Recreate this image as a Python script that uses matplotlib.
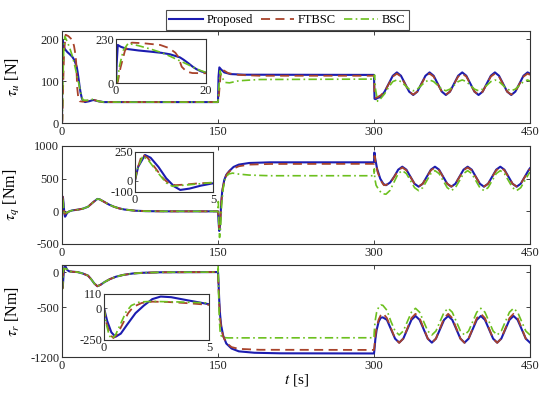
import numpy as np
import matplotlib
matplotlib.use('Agg')
import matplotlib.pyplot as plt

plt.rcParams['font.family'] = ['Liberation Serif', 'DejaVu Serif']
plt.rcParams['mathtext.fontset'] = 'stix'
plt.rcParams['axes.unicode_minus'] = False

# ---------------- data ----------------
# sample times of the periodic part (one sample every eighth of a period)
t_osc_u = np.r_[306.3 + 3.927 * np.arange(37), 450]
t_osc_q = np.r_[311.5 + 3.927 * np.arange(36), 450]
t_osc_r = np.r_[308.5 + 3.927 * np.arange(36), 450]

# tau_u [N]
u_prop_t = [0, 0.15, 0.4, 1, 2.4, 5, 7.6, 10, 12, 14.2, 15, 16.1, 17, 17.9, 19, 20, 22, 26, 30, 35, 40,
            150, 150.5, 151.3, 153, 156, 162, 175, 300, 300.5, 301.5, 303.5]
u_prop_v = [0, 100, 199, 190, 178, 170, 164, 158, 150, 134, 122, 103, 86, 72, 60, 54, 50, 52, 55, 52, 50,
            50, 110, 133, 128, 121, 117, 115.5, 115, 58, 57, 60]
u_prop_osc = [62, 75, 94, 113, 121, 113, 94, 75,
              67, 75, 94, 113, 121, 113, 94, 75,
              67, 75, 94, 113, 121, 113, 94, 75,
              67, 75, 94, 113, 121, 113, 94, 75,
              67, 75, 94, 113, 121, 118]

u_ftb_t = [0, 0.4, 1, 2, 3.5, 6, 9.8, 11.5, 12.4, 13.2, 13.8, 14.6, 15.7, 17, 20, 25, 30, 35, 40,
           150, 151, 152.5, 154, 156, 160, 170, 190, 300, 300.5, 301.5, 303.5]
u_ftb_v = [0, 5, 80, 170, 211, 208, 199, 185, 172, 158, 138, 85, 59, 52, 51, 54, 56, 52, 50,
           50, 70, 115, 128, 125, 119, 115, 113, 113, 70, 60, 62]
u_ftb_osc = [66, 75, 93, 111, 118, 111, 93, 75,
             68, 75, 93, 111, 118, 111, 93, 75,
             68, 75, 93, 111, 118, 111, 93, 75,
             68, 75, 93, 111, 118, 111, 93, 75,
             68, 75, 93, 111, 118, 115]

u_bsc_t = [0, 0.3, 0.8, 1.6, 2.7, 5, 7.6, 10, 12, 14, 16, 18, 20, 25, 30, 35, 40,
           150, 151, 152, 153.5, 157, 161, 170, 190, 300, 300.5, 301.5, 303.5]
u_bsc_v = [0, 10, 90, 170, 207, 195, 178, 160, 140, 118, 96, 72, 55, 54, 57, 52, 50,
           50, 90, 125, 110, 97, 96, 101, 104, 105, 115, 80, 52]
u_bsc_osc = [58, 70, 86, 99, 103, 99, 90, 81,
             77, 81, 90, 99, 103, 99, 90, 81,
             77, 81, 90, 99, 103, 99, 90, 81,
             77, 81, 90, 99, 103, 99, 90, 81,
             77, 81, 90, 99, 103, 100]

# tau_q [Nm]
q_prop_t = [0, 0.2, 0.64, 1.0, 1.5, 2.0, 2.5, 2.9, 3.5, 4.2, 5, 7, 10, 15, 20, 25, 30, 34, 36, 40, 45,
            50, 55, 60, 70, 80, 100, 150, 150.5, 151.2, 152, 153, 154, 156, 158, 161, 165, 170, 180,
            200, 300, 300.4, 301, 303, 306, 309]
q_prop_v = [0, 120, 224, 200, 120, 20, -50, -82, -70, -45, -24, 0, 15, 25, 40, 70, 140, 190, 185, 150, 105,
            70, 45, 28, 10, 3, 0, 0, -150, -300, -200, 100, 300, 480, 560, 620, 680, 715, 740,
            750, 750, 900, 820, 650, 500, 420]
q_prop_osc = [400, 440, 530, 638, 683, 638, 530, 422,
              377, 422, 530, 638, 683, 638, 530, 422,
              377, 422, 530, 638, 683, 638, 530, 422,
              377, 422, 530, 638, 683, 638, 530, 422,
              377, 422, 530, 638, 660]

q_ftb_t = [0, 0.15, 0.45, 0.8, 1.3, 1.8, 2.2, 2.6, 3.2, 4, 5, 7, 10, 15, 20, 25, 30, 34, 36, 40, 45,
           50, 55, 60, 70, 80, 100, 150, 150.5, 151.3, 152.2, 153.2, 154.5, 156.5, 159, 163, 170, 180,
           200, 300, 300.5, 301.5, 303.5, 306.5, 309.5]
q_ftb_v = [0, 100, 230, 200, 110, 20, -30, -40, -35, -25, -18, 0, 15, 25, 40, 70, 140, 190, 185, 150, 105,
           70, 45, 28, 10, 3, 0, 0, -100, -250, -150, 150, 350, 500, 580, 640, 690, 715,
           725, 727, 850, 750, 600, 470, 400]
q_ftb_osc = [405, 430, 525, 628, 670, 628, 525, 422,
             380, 422, 525, 628, 670, 628, 525, 422,
             380, 422, 525, 628, 670, 628, 525, 422,
             380, 422, 525, 628, 670, 628, 525, 422,
             380, 422, 525, 628, 648]

q_bsc_t = [0, 0.1, 0.5, 0.9, 1.4, 2.0, 2.4, 3, 4, 5, 7, 10, 15, 20, 25, 30, 34, 36, 40, 45,
           50, 55, 60, 70, 80, 100, 150, 150.3, 150.8, 151.5, 152.5, 153.5, 155, 157, 160, 164, 170,
           180, 200, 300, 300.3, 300.8, 302, 305, 308]
q_bsc_v = [0, 80, 215, 170, 80, -20, -50, -42, -30, -17, 0, 15, 25, 40, 70, 140, 190, 185, 150, 105,
           70, 45, 28, 10, 3, 0, 0, 150, -200, -400, -250, 100, 350, 500, 570, 585, 570,
           555, 545, 545, 650, 500, 400, 320, 270]
q_bsc_osc = [262, 320, 450, 578, 623, 578, 470, 362,
             317, 362, 470, 578, 623, 578, 470, 362,
             317, 362, 470, 578, 623, 578, 470, 362,
             317, 362, 470, 578, 623, 578, 470, 362,
             317, 362, 470, 578, 600]

# tau_r [Nm]
r_late_t = [7, 10, 15, 20, 25, 28, 31, 34, 37, 41, 46, 52, 59, 68, 78, 95, 150]
r_late_v = [10, 5, 0, -20, -50, -100, -160, -200, -180, -140, -100, -65, -40, -20, -10, -3, 0]

r_prop_t = [0, 0.15, 0.35, 0.55, 0.8, 1.1, 1.5, 1.9, 2.3, 2.7, 3.2, 4, 5] + r_late_t + \
           [150.5, 151.2, 152, 153, 155, 158, 163, 170, 185, 210, 300, 300.4, 301.3, 302.5, 304.5, 306.5]
r_prop_v = [0, -100, -190, -225, -200, -130, -40, 20, 70, 90, 85, 60, 30] + r_late_v + \
           [-150, -400, -600, -750, -900, -1010, -1080, -1120, -1140, -1148, -1150, -1100, -950, -820, -700, -645]
r_prop_osc = [-640, -675, -808, -941, -997, -941, -808, -675,
              -620, -675, -808, -941, -997, -941, -808, -675,
              -620, -675, -808, -941, -997, -941, -808, -675,
              -620, -675, -808, -941, -997, -941, -808, -675,
              -620, -675, -808, -941, -997]

r_ftb_t = [0, 0.12, 0.3, 0.45, 0.65, 0.9, 1.15, 1.4, 1.8, 2.3, 3, 4, 5] + r_late_t + \
          [150.5, 151.2, 152, 153, 155, 158, 163, 170, 190, 300, 300.4, 301.3, 302.5, 304.5, 306.5]
r_ftb_v = [0, -120, -210, -235, -200, -120, -40, 10, 40, 50, 48, 38, 25] + r_late_v + \
          [-200, -450, -650, -780, -910, -1000, -1060, -1085, -1098, -1100, -1050, -900, -780, -670, -610]
r_ftb_osc = [-580, -650, -795, -940, -1000, -940, -795, -650,
             -590, -650, -795, -940, -1000, -940, -795, -650,
             -590, -650, -795, -940, -1000, -940, -795, -650,
             -590, -650, -795, -940, -1000, -940, -795, -650,
             -590, -650, -795, -940, -1000]

r_bsc_t = [0, 0.1, 0.25, 0.38, 0.55, 0.8, 1.05, 1.3, 1.7, 2.3, 3.5, 5] + r_late_t + \
          [150.2, 150.6, 151.2, 152, 153, 155, 160, 300, 300.2, 301, 302.5, 304.5, 306.5]
r_bsc_v = [0, -120, -215, -240, -210, -120, -30, 20, 48, 52, 48, 40] + r_late_v + \
          [100, -300, -650, -830, -900, -925, -930, -928, -850, -700, -570, -495, -465]
r_bsc_osc = [-470, -540, -700, -833, -889, -833, -700, -567,
             -512, -567, -700, -833, -889, -833, -700, -567,
             -512, -567, -700, -833, -889, -833, -700, -567,
             -512, -567, -700, -833, -889, -833, -700, -567,
             -512, -567, -700, -833, -889]

names = ['Proposed', 'FTBSC', 'BSC']
styles = [dict(color='#1c1cb0', lw=1.5, ls='-'),
          dict(color='#a8432b', lw=1.3, ls=(0, (5, 3))),
          dict(color='#6cc01e', lw=1.2, ls=(0, (5, 2, 1, 2)))]

panels = [
    dict(series=[(u_prop_t, u_prop_v, t_osc_u, u_prop_osc),
                 (u_ftb_t, u_ftb_v, t_osc_u, u_ftb_osc),
                 (u_bsc_t, u_bsc_v, t_osc_u, u_bsc_osc)],
         ylim=(0, 220), yticks=[0, 100, 200], ylabel=r'$\tau_u$ [N]',
         inset=dict(rect=[116, 39, 90, 44], xlim=(0, 20), ylim=(0, 230),
                    xticks=[0, 20], yticks=[0, 230])),
    dict(series=[(q_prop_t, q_prop_v, t_osc_q, q_prop_osc),
                 (q_ftb_t, q_ftb_v, t_osc_q, q_ftb_osc),
                 (q_bsc_t, q_bsc_v, t_osc_q, q_bsc_osc)],
         ylim=(-500, 1000), yticks=[-500, 0, 500, 1000], ylabel=r'$\tau_q$ [Nm]',
         inset=dict(rect=[135, 152, 78, 40], xlim=(0, 5), ylim=(-100, 250),
                    xticks=[0, 5], yticks=[-100, 0, 250])),
    dict(series=[(r_prop_t, r_prop_v, t_osc_r, r_prop_osc),
                 (r_ftb_t, r_ftb_v, t_osc_r, r_ftb_osc),
                 (r_bsc_t, r_bsc_v, t_osc_r, r_bsc_osc)],
         ylim=(-1200, 100), yticks=[-1200, -500, 0], ylabel=r'$\tau_r$ [Nm]',
         inset=dict(rect=[104, 294, 105, 46], xlim=(0, 5), ylim=(-250, 110),
                    xticks=[0, 5], yticks=[-250, 0, 110])),
]

# axes boxes in pixels (left, top, width, height) of a 550x395 figure
boxes = [(62, 31, 468, 92), (62, 146, 468, 98), (62, 265, 468, 92)]
W, H = 550, 395


def frac(l, t, w, h):
    return [l / W, 1 - (t + h) / H, w / W, h / H]


fig = plt.figure(figsize=(5.5, 3.95), dpi=100)
edge = '#333333'
handles = []
for p, box in zip(panels, boxes):
    ax = fig.add_axes(frac(*box))
    ins = fig.add_axes(frac(*p['inset']['rect']))
    for (tp, vp, to, vo), st, nm in zip(p['series'], styles, names):
        t = np.r_[tp, to]
        v = np.r_[vp, vo]
        h, = ax.plot(t, v, label=nm, **st)
        ins.plot(t, v, **st)
        if len(handles) < 3:
            handles.append(h)
    ax.set_xlim(0, 450)
    ax.set_ylim(*p['ylim'])
    ax.set_xticks([0, 150, 300, 450])
    ax.set_yticks(p['yticks'])
    ax.tick_params(direction='in', top=True, right=True, length=3, width=0.6,
                   labelsize=9, pad=2, colors='#222222')
    ax.set_ylabel(p['ylabel'], fontsize=11.5, labelpad=1)
    ax.yaxis.set_label_coords(-0.085, 0.5)
    for s in ax.spines.values():
        s.set_color(edge)
        s.set_linewidth(0.8)

    ip = p['inset']
    ins.set_xlim(*ip['xlim'])
    ins.set_ylim(*ip['ylim'])
    ins.set_xticks(ip['xticks'])
    ins.set_yticks(ip['yticks'])
    ins.tick_params(direction='in', length=2, width=0.5, labelsize=9, pad=1.5,
                    colors='#222222')
    for s in ins.spines.values():
        s.set_color(edge)
        s.set_linewidth(0.8)

    last = ax

last.set_xlabel(r'$t$ [s]', fontsize=11, labelpad=0)

leg = fig.legend(handles=handles, labels=names, loc='center', ncol=3,
                 bbox_to_anchor=(0.522, 0.949), fontsize=9, frameon=True,
                 fancybox=False, edgecolor='#222222', handlelength=2.7,
                 columnspacing=0.6, handletextpad=0.3, borderpad=0.3,
                 borderaxespad=0)
leg.get_frame().set_linewidth(0.8)

fig.savefig('out.png', dpi=100)
